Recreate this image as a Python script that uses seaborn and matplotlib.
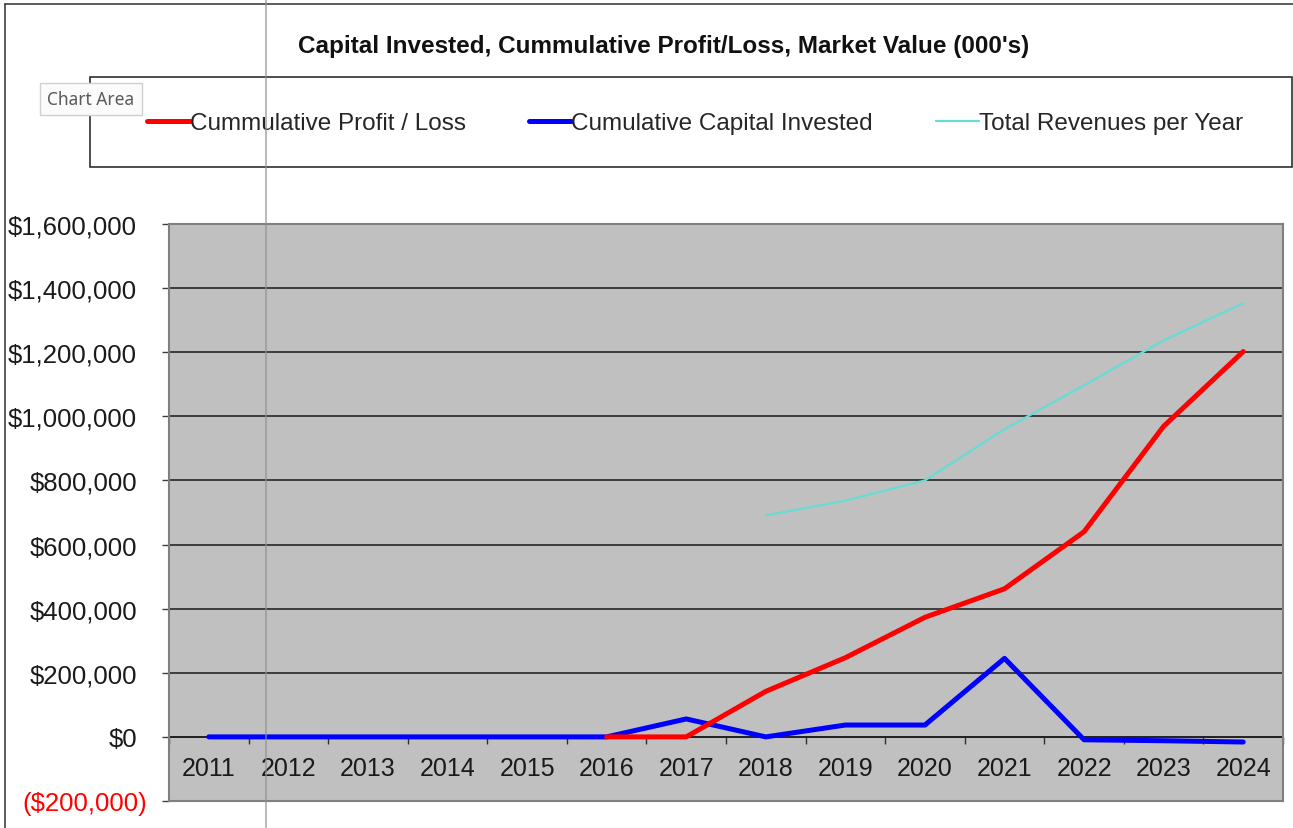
import numpy as np
import pandas as pd
import matplotlib
matplotlib.use("Agg")
import matplotlib.pyplot as plt
import seaborn as sns
from matplotlib.lines import Line2D
from matplotlib.patches import Rectangle
from matplotlib.transforms import ScaledTranslation

# data
years = [2011, 2012, 2013, 2014, 2015, 2016, 2017, 2018, 2019, 2020, 2021, 2022, 2023, 2024]
profit_loss = [np.nan, np.nan, np.nan, np.nan, np.nan, 0, 0, 142000, 247000, 373000, 462000, 640000, 969000, 1202000]
capital_invested = [0, 0, 0, 0, 0, 0, 56000, 0, 37000, 37000, 245000, -9000, -12000, -16000]
revenues = [np.nan, np.nan, np.nan, np.nan, np.nan, np.nan, np.nan, 691000, 737000, 800000, 960000, 1097000, 1237000, 1353000]
y_ticks = [-200000, 0, 200000, 400000, 600000, 800000, 1000000, 1200000, 1400000, 1600000]

df = pd.DataFrame({"year": years, "profit": profit_loss,
                   "capital": capital_invested, "revenue": revenues})

sns.set_style("white")
plt.rcParams["font.family"] = ["Liberation Sans", "DejaVu Sans"]

W, H = 1293, 829
fig = plt.figure(figsize=(W / 100, H / 100), dpi=100)
ax = fig.add_axes([169 / W, 1 - 802 / H, (1283 - 169) / W, (802 - 225) / H])
ax.set_facecolor("#c0c0c0")

# series
sns.lineplot(data=df, x="year", y="capital", ax=ax, color="#0000ff", linewidth=3.6,
             label="Cumulative Capital Invested", zorder=3)
sns.lineplot(data=df, x="year", y="profit", ax=ax, color="#ff0000", linewidth=3.6,
             label="Cummulative Profit / Loss", zorder=4)
sns.lineplot(data=df, x="year", y="revenue", ax=ax, color="#66dcd4", linewidth=1.6,
             label="Total Revenues per Year", zorder=3)

ax.set_xlim(years[0] - 0.5, years[-1] + 0.5)
ax.set_ylim(y_ticks[0], y_ticks[-1])
ax.set_xlabel("")
ax.set_ylabel("")
ax.set_xticks([])

# y axis: dollar labels, negatives red in brackets (Excel "_)" padding on positives)
labels = [f"${v:,.0f}" if v >= 0 else f"(${-v:,.0f})" for v in y_ticks]
ax.set_yticks(y_ticks)
ax.set_yticklabels(labels, fontsize=18.5, color="#1a1a1a")
ax.tick_params(axis="y", left=True, length=5, width=1, color="#404040",
               direction="out", pad=10.8)
for t, v in zip(ax.get_yticklabels(), y_ticks):
    if v < 0:
        t.set_color("#ff0000")
    else:
        t.set_transform(t.get_transform() + ScaledTranslation(-0.1, 0, fig.dpi_scale_trans))
ax.grid(axis="y", color="#1a1a1a", linewidth=1.1)
ax.set_axisbelow(True)
for s in ax.spines.values():
    s.set_color("#808080")
    s.set_linewidth(1.5)

# category axis crossing at zero
zero_frac = (0 - y_ticks[0]) / (y_ticks[-1] - y_ticks[0])
sec = ax.secondary_xaxis(zero_frac)
sec.set_xticks(years)
sec.set_xticklabels([str(y) for y in years], fontsize=18, color="#1a1a1a")
sec.set_xticks([y + 0.5 for y in [years[0] - 1] + years], minor=True)
sec.tick_params(axis="x", which="major", length=0, pad=14)
sec.tick_params(axis="x", which="minor", length=5, width=1, color="#303030", direction="out")
sec.spines["bottom"].set_color("#303030")
sec.spines["bottom"].set_linewidth(1.2)

# legend, in its own box
handles, lbls = ax.get_legend_handles_labels()
order = [1, 0, 2]
ax.get_legend().remove()
fig.legend([handles[i] for i in order], [lbls[i] for i in order], ncol=3,
           loc="center", bbox_to_anchor=(695 / W, 1 - 124 / H), frameon=False,
           fontsize=17.5, handlelength=1.75, handletextpad=0.0, columnspacing=2.6)
fig.add_artist(Rectangle((90 / W, 1 - 168 / H), (1292 - 90) / W, 90 / H,
                         transform=fig.transFigure, fill=False,
                         edgecolor="#303030", linewidth=1.2))

fig.text(664 / W, 1 - 53 / H,
         "Capital Invested, Cummulative Profit/Loss, Market Value (000's)",
         ha="center", va="baseline", fontsize=17.5, fontweight="bold", color="#111111")

# chart area border and the worksheet gridline behind it
fig.add_artist(Line2D([5 / W, 5 / W], [0, 1 - 5 / H], color="#404040", linewidth=1.2))
fig.add_artist(Line2D([5 / W, 1], [1 - 5 / H, 1 - 5 / H], color="#404040", linewidth=1.2))
fig.add_artist(Line2D([265.5 / W, 265.5 / W], [0, 1], color="#909090", linewidth=1.1,
                      alpha=0.8, zorder=10))

# the "Chart Area" tooltip
fig.text(91 / W, 1 - 100 / H, "Chart Area", ha="center", va="center",
         fontsize=12.5, color="#5a5a5a", family="Noto Sans", zorder=11,
         bbox=dict(boxstyle="square,pad=0.4", facecolor="#fbfbfb",
                   edgecolor="#d0d0d0", linewidth=1))

fig.savefig("out.png", dpi=100)
